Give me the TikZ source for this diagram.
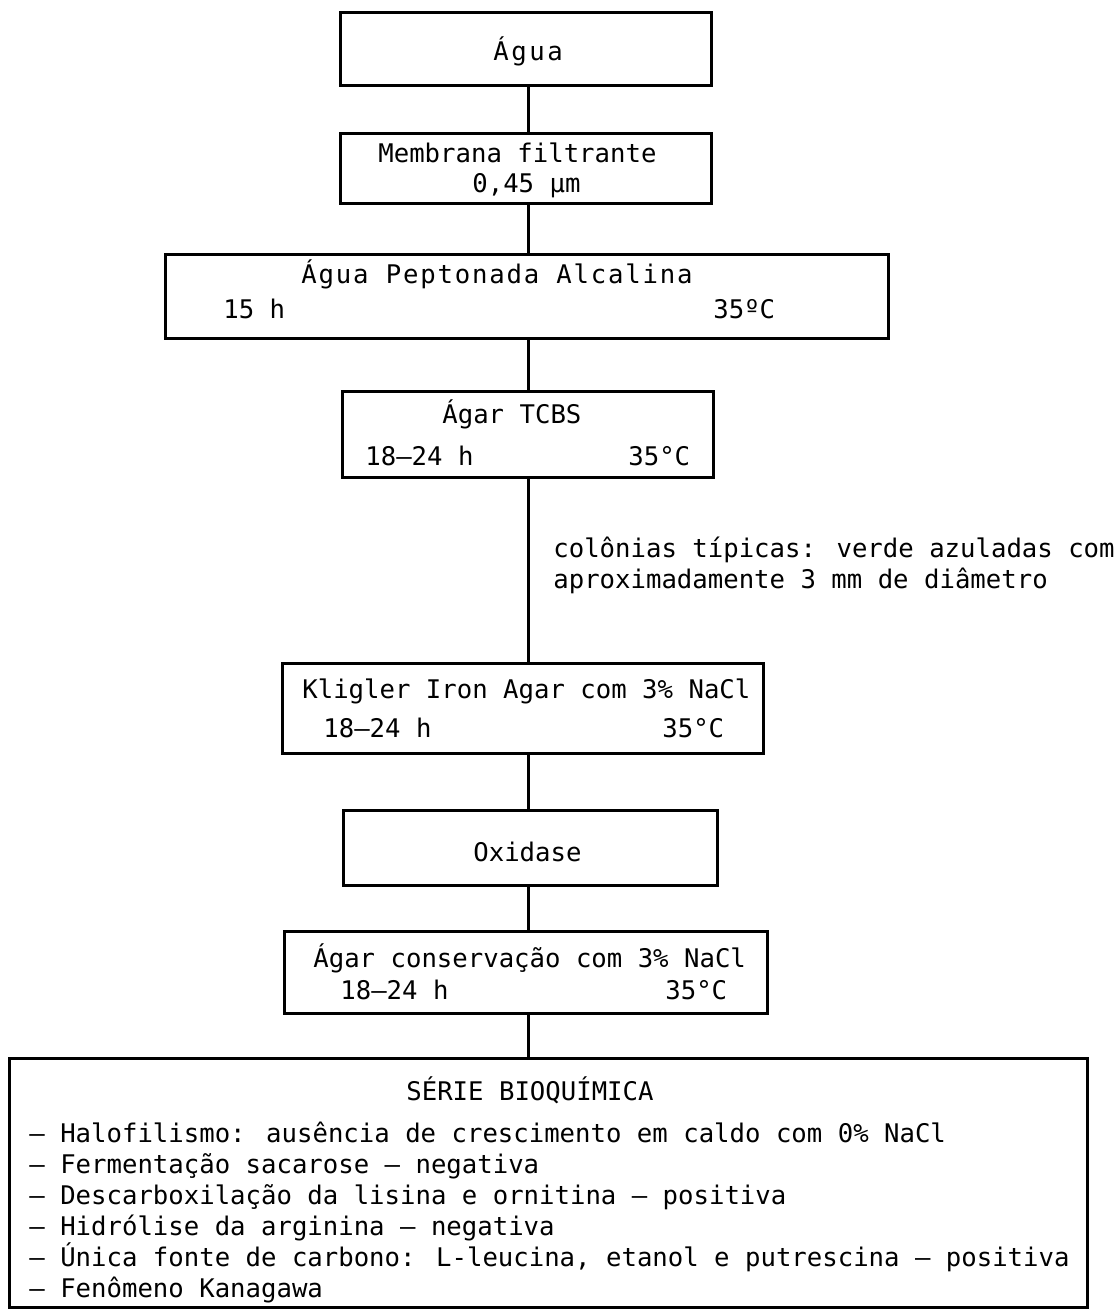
\documentclass[tikz,border=0pt]{standalone}
\usepackage{fontspec}
\newfontfamily\monofam{DejaVu Sans Mono}
\newfontfamily\monowide[LetterSpace=10]{DejaVu Sans Mono}
\newfontfamily\monowideb[LetterSpace=7]{DejaVu Sans Mono}
\newcommand\tsize{\fontsize{12.83pt}{15.5pt}\selectfont}
\begin{document}
\begin{tikzpicture}[x=0.5pt,y=-0.5pt,
  box/.style={draw,line width=1.5pt,inner sep=0pt},
  conn/.style={line width=1.5pt},
  txt/.style={inner sep=0pt,anchor=base west,font=\monofam\tsize},
  wtxt/.style={inner sep=0pt,anchor=base west,font=\monowide\tsize},
  wtxtb/.style={inner sep=0pt,anchor=base west,font=\monowideb\tsize}]
\fill[white] (0,0) rectangle (1117,1314);
\useasboundingbox (0,0) rectangle (1117,1314);
\coordinate (spine) at (528,0);

% boxes
\node[box,minimum width=185.5pt,minimum height=36.5pt] (agua) at (525.5,48.5) {};
\node[box,minimum width=185.5pt,minimum height=35pt] (membrana) at (525.5,168) {};
\node[box,minimum width=361.5pt,minimum height=42pt] (peptonada) at (526.5,296) {};
\node[box,minimum width=185.5pt,minimum height=43pt] (tcbs) at (527.5,434) {};
\node[box,minimum width=240.5pt,minimum height=45pt] (kligler) at (522.5,708) {};
\node[box,minimum width=187pt,minimum height=37.5pt] (oxidase) at (530,847.5) {};
\node[box,minimum width=241.5pt,minimum height=41pt] (conserv) at (525.5,972) {};
\node[box,minimum width=539pt,minimum height=124.5pt] (serie) at (548,1182.5) {};

% connectors
\draw[conn] (agua.south -| spine) -- (membrana.north -| spine);
\draw[conn] (membrana.south -| spine) -- (peptonada.north -| spine);
\draw[conn] (peptonada.south -| spine) -- (tcbs.north -| spine);
\draw[conn] (tcbs.south -| spine) -- (kligler.north -| spine);
\draw[conn] (kligler.south -| spine) -- (oxidase.north -| spine);
\draw[conn] (oxidase.south -| spine) -- (conserv.north -| spine);
\draw[conn] (conserv.south -| spine) -- (serie.north -| spine);

% texts
\node[wtxt] (t1) at (493,60) {Água};
\node[txt] (t2a) at (378,162) {Membrana filtrante};
\node[txt] (t2b) at (472,192) {0,45 µm};
\node[wtxtb] (t3a) at (301,283) {Água Peptonada Alcalina};
\node[txt] (t3b) at (223,318) {15 h};
\node[txt] (t3c) at (713,318) {35ºC};
\node[txt] (t4a) at (442,423) {Ágar TCBS};
\node[txt] (t4b) at (365,465) {18–24 h};
\node[txt] (t4c) at (628,465) {35°C};
\node[txt] (nota1) at (553,557) {colônias típicas: verde azuladas com};
\node[txt] (nota2) at (553,588) {aproximadamente 3 mm de diâmetro};
\node[txt] (t5a) at (302,698) {Kligler Iron Agar com 3\% NaCl};
\node[txt] (t5b) at (323,737) {18–24 h};
\node[txt] (t5c) at (662,737) {35°C};
\node[txt] (t6) at (473,861) {Oxidase};
\node[txt] (t7a) at (313,967) {Ágar conservação com 3\% NaCl};
\node[txt] (t7b) at (340,999) {18–24 h};
\node[txt] (t7c) at (665,999) {35°C};
\node[txt] (t8) at (406,1100) {SÉRIE BIOQUÍMICA};
\node[txt] (l1) at (29,1142) {– Halofilismo: ausência de crescimento em caldo com 0\% NaCl};
\node[txt] (l2) at (29,1173) {– Fermentação sacarose – negativa};
\node[txt] (l3) at (29,1204) {– Descarboxilação da lisina e ornitina – positiva};
\node[txt] (l4) at (29,1235) {– Hidrólise da arginina – negativa};
\node[txt] (l5) at (29,1266) {– Única fonte de carbono: L-leucina, etanol e putrescina – positiva};
\node[txt] (l6) at (29,1297) {– Fenômeno Kanagawa};
\end{tikzpicture}
\end{document}
